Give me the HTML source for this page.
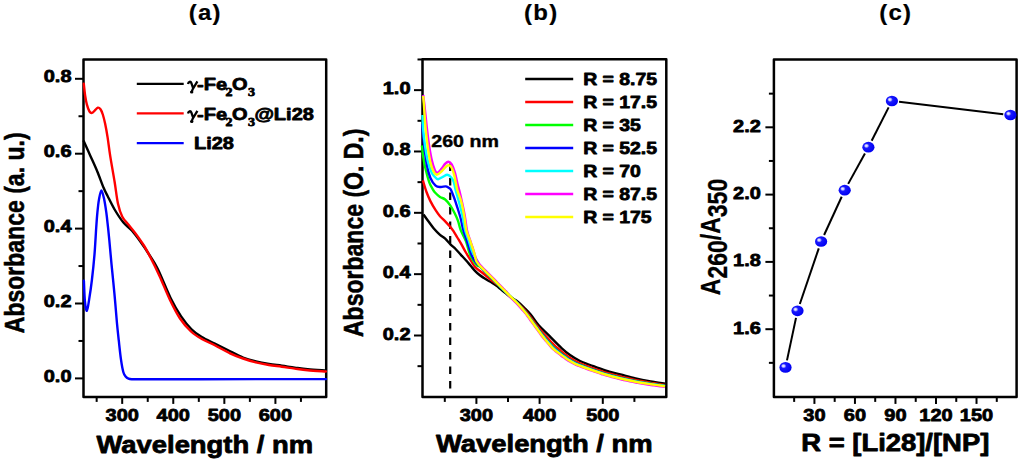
<!DOCTYPE html>
<html><head><meta charset="utf-8"><style>
html,body{margin:0;padding:0;background:#fff;width:1024px;height:463px;overflow:hidden}
svg{display:block}
text{font-family:"Liberation Sans", sans-serif;font-weight:bold;fill:#000;stroke:#000;stroke-width:0.9px;stroke-linejoin:round}
</style></head><body>
<svg width="1024" height="463" viewBox="0 0 1024 463">
<defs><radialGradient id="ball" cx="0.4" cy="0.4" r="0.62" fx="0.32" fy="0.36">
<stop offset="0" stop-color="#f4f4ff"/><stop offset="0.16" stop-color="#c8c8ff"/><stop offset="0.36" stop-color="#1818ff"/><stop offset="1" stop-color="#0000f0"/></radialGradient></defs>
<rect width="1024" height="463" fill="#fff"/>
<rect x="83.50" y="59.50" width="242.70" height="337.40" fill="none" stroke="#000" stroke-width="2.5" stroke-linejoin="round"/>
<g fill="none" stroke-linejoin="round" stroke-linecap="round">
<path d="M83.80,141.20 C84.90,143.65 88.15,150.85 90.40,155.90 C92.65,160.95 95.12,166.23 97.30,171.50 C99.48,176.77 101.78,183.42 103.50,187.50 C105.22,191.58 105.75,192.33 107.60,196.00 C109.45,199.67 112.00,205.12 114.60,209.50 C117.20,213.88 120.33,218.80 123.20,222.30 C126.07,225.80 128.92,227.25 131.80,230.50 C134.68,233.75 137.62,237.80 140.50,241.80 C143.38,245.80 146.22,249.97 149.10,254.50 C151.98,259.03 154.20,261.72 157.80,269.00 C161.40,276.28 166.82,290.30 170.70,298.20 C174.58,306.10 177.63,311.22 181.10,316.40 C184.57,321.58 188.05,325.85 191.50,329.30 C194.95,332.75 197.92,334.72 201.80,337.10 C205.68,339.48 210.48,341.45 214.80,343.60 C219.12,345.75 223.00,347.68 227.70,350.00 C232.40,352.32 238.30,355.60 243.00,357.50 C247.70,359.40 251.58,360.32 255.90,361.40 C260.22,362.48 264.58,363.28 268.90,364.00 C273.22,364.72 277.48,365.10 281.80,365.70 C286.12,366.30 290.48,367.02 294.80,367.60 C299.12,368.18 302.52,368.72 307.70,369.20 C312.88,369.68 322.87,370.28 325.90,370.50" stroke="#000" stroke-width="2.4"/>
<path d="M83.90,280.70 C84.07,284.08 84.40,295.98 84.90,301.00 C85.40,306.02 86.18,311.12 86.90,310.80 C87.62,310.48 88.37,304.23 89.20,299.10 C90.03,293.97 91.02,287.45 91.90,280.00 C92.78,272.55 93.78,263.07 94.50,254.40 C95.22,245.73 95.72,235.00 96.20,228.00 C96.68,221.00 96.93,217.17 97.40,212.40 C97.87,207.63 98.33,203.07 99.00,199.40 C99.67,195.73 100.53,190.40 101.40,190.40 C102.27,190.40 103.38,195.73 104.20,199.40 C105.02,203.07 105.70,208.08 106.30,212.40 C106.90,216.72 107.30,220.70 107.80,225.30 C108.30,229.90 108.68,233.52 109.30,240.00 C109.92,246.48 110.65,255.32 111.50,264.20 C112.35,273.08 113.50,283.58 114.40,293.30 C115.30,303.02 116.17,314.60 116.90,322.50 C117.63,330.40 118.12,334.50 118.80,340.70 C119.48,346.90 120.25,354.48 121.00,359.70 C121.75,364.92 122.53,369.22 123.30,372.00 C124.07,374.78 124.73,375.30 125.60,376.40 C126.47,377.50 127.43,378.13 128.50,378.60 C129.57,379.07 130.08,379.08 132.00,379.20 C133.92,379.32 128.67,379.30 140.00,379.30 C151.33,379.30 169.00,379.23 200.00,379.20 C231.00,379.17 305.00,379.12 326.00,379.10" stroke="#0000ff" stroke-width="2.4"/>
<path d="M83.80,83.80 C84.03,85.82 84.68,92.43 85.20,95.90 C85.72,99.37 86.18,102.00 86.90,104.60 C87.62,107.20 88.63,110.12 89.50,111.50 C90.37,112.88 91.23,113.05 92.10,112.90 C92.97,112.75 93.75,111.47 94.70,110.60 C95.65,109.73 96.83,107.92 97.80,107.70 C98.77,107.48 99.67,108.17 100.50,109.30 C101.33,110.43 102.03,112.12 102.80,114.50 C103.57,116.88 104.30,119.78 105.10,123.60 C105.90,127.42 106.75,132.02 107.60,137.40 C108.45,142.78 109.03,148.50 110.20,155.90 C111.37,163.30 113.30,173.82 114.60,181.80 C115.90,189.78 116.72,197.97 118.00,203.80 C119.28,209.63 120.57,213.33 122.30,216.80 C124.03,220.27 126.23,221.87 128.40,224.60 C130.57,227.33 132.72,229.72 135.30,233.20 C137.88,236.68 141.45,241.62 143.90,245.50 C146.35,249.38 147.40,251.43 150.00,256.50 C152.60,261.57 156.17,268.65 159.50,275.90 C162.83,283.15 166.58,292.90 170.00,300.00 C173.42,307.10 176.50,313.25 180.00,318.50 C183.50,323.75 187.37,328.08 191.00,331.50 C194.63,334.92 197.83,336.72 201.80,339.00 C205.77,341.28 210.10,342.82 214.80,345.20 C219.50,347.58 225.30,351.08 230.00,353.30 C234.70,355.52 238.68,356.98 243.00,358.50 C247.32,360.02 251.58,361.32 255.90,362.40 C260.22,363.48 264.58,364.28 268.90,365.00 C273.22,365.72 277.48,366.10 281.80,366.70 C286.12,367.30 290.48,368.02 294.80,368.60 C299.12,369.18 302.52,369.72 307.70,370.20 C312.88,370.68 322.87,371.28 325.90,371.50" stroke="#ff0000" stroke-width="2.4"/>
</g>
<line x1="75.00" y1="378.40" x2="83.50" y2="378.40" stroke="#000" stroke-width="2" />
<text transform="translate(71.50,381.90) scale(1,0.84)" font-size="20" text-anchor="end" >0.0</text>
<line x1="75.00" y1="303.50" x2="83.50" y2="303.50" stroke="#000" stroke-width="2" />
<text transform="translate(71.50,307.00) scale(1,0.84)" font-size="20" text-anchor="end" >0.2</text>
<line x1="75.00" y1="228.60" x2="83.50" y2="228.60" stroke="#000" stroke-width="2" />
<text transform="translate(71.50,232.10) scale(1,0.84)" font-size="20" text-anchor="end" >0.4</text>
<line x1="75.00" y1="153.70" x2="83.50" y2="153.70" stroke="#000" stroke-width="2" />
<text transform="translate(71.50,157.20) scale(1,0.84)" font-size="20" text-anchor="end" >0.6</text>
<line x1="75.00" y1="78.80" x2="83.50" y2="78.80" stroke="#000" stroke-width="2" />
<text transform="translate(71.50,82.30) scale(1,0.84)" font-size="20" text-anchor="end" >0.8</text>
<line x1="78.50" y1="340.95" x2="83.50" y2="340.95" stroke="#000" stroke-width="2" />
<line x1="78.50" y1="266.05" x2="83.50" y2="266.05" stroke="#000" stroke-width="2" />
<line x1="78.50" y1="191.15" x2="83.50" y2="191.15" stroke="#000" stroke-width="2" />
<line x1="78.50" y1="116.25" x2="83.50" y2="116.25" stroke="#000" stroke-width="2" />
<line x1="122.20" y1="396.90" x2="122.20" y2="403.90" stroke="#000" stroke-width="2" />
<text transform="translate(122.20,420.90) scale(1,0.84)" font-size="20" text-anchor="middle" >300</text>
<line x1="173.27" y1="396.90" x2="173.27" y2="403.90" stroke="#000" stroke-width="2" />
<text transform="translate(173.27,420.90) scale(1,0.84)" font-size="20" text-anchor="middle" >400</text>
<line x1="224.34" y1="396.90" x2="224.34" y2="403.90" stroke="#000" stroke-width="2" />
<text transform="translate(224.34,420.90) scale(1,0.84)" font-size="20" text-anchor="middle" >500</text>
<line x1="275.41" y1="396.90" x2="275.41" y2="403.90" stroke="#000" stroke-width="2" />
<text transform="translate(275.41,420.90) scale(1,0.84)" font-size="20" text-anchor="middle" >600</text>
<line x1="96.66" y1="396.90" x2="96.66" y2="401.90" stroke="#000" stroke-width="2" />
<line x1="147.74" y1="396.90" x2="147.74" y2="401.90" stroke="#000" stroke-width="2" />
<line x1="198.81" y1="396.90" x2="198.81" y2="401.90" stroke="#000" stroke-width="2" />
<line x1="249.88" y1="396.90" x2="249.88" y2="401.90" stroke="#000" stroke-width="2" />
<line x1="300.94" y1="396.90" x2="300.94" y2="401.90" stroke="#000" stroke-width="2" />
<text transform="translate(205.20,20.40) scale(1,0.9)" font-size="24" text-anchor="middle" style="stroke-width:0.2px;letter-spacing:1.2px">(a)</text>
<text transform="translate(204.80,453.20) scale(1,0.84)" font-size="27.4" text-anchor="middle" >Wavelength / nm</text>
<text transform="translate(23.50,232.80) scale(1,0.84) rotate(-90)" font-size="27.4" text-anchor="middle" style="stroke-width:0.55px">Absorbance (a. u.)</text>
<line x1="136.80" y1="83.90" x2="183.70" y2="83.90" stroke="#000" stroke-width="2.2" />
<line x1="136.80" y1="113.40" x2="183.70" y2="113.40" stroke="#ff0000" stroke-width="2.2" />
<line x1="136.80" y1="143.10" x2="183.70" y2="143.10" stroke="#0000ff" stroke-width="2.2" />
<text transform="translate(188.60,90.40) scale(1,0.84)" font-size="20" text-anchor="start" ><tspan x="8.5">-</tspan><tspan x="15.2">Fe</tspan><tspan x="37.0" dy="7" font-size="14" font-family="Liberation Serif">2</tspan><tspan x="43.5" dy="-7">O</tspan><tspan x="59.3" dy="7" font-size="14" font-family="Liberation Serif">3</tspan></text>
<path d="M188.0,84.00 C188.5,81.40 190.6,80.90 191.4,83.20 L193.3,88.60 M197.4,81.30 L192.7,89.20 L191.4,92.60" fill="none" stroke="#000" stroke-width="2.3"/>
<ellipse cx="191.7" cy="92.00" rx="1.7" ry="1.5" fill="#000"/>
<text transform="translate(188.60,119.90) scale(1,0.84)" font-size="20" text-anchor="start" ><tspan x="8.5">-</tspan><tspan x="15.2">Fe</tspan><tspan x="37.0" dy="7" font-size="14" font-family="Liberation Serif">2</tspan><tspan x="43.5" dy="-7">O</tspan><tspan x="59.3" dy="7" font-size="14" font-family="Liberation Serif">3</tspan><tspan x="65.8" dy="-7">@Li28</tspan></text>
<path d="M188.0,113.50 C188.5,110.90 190.6,110.40 191.4,112.70 L193.3,118.10 M197.4,110.80 L192.7,118.70 L191.4,122.10" fill="none" stroke="#000" stroke-width="2.3"/>
<ellipse cx="191.7" cy="121.50" rx="1.7" ry="1.5" fill="#000"/>
<text transform="translate(194.00,149.00) scale(1,0.84)" font-size="20" text-anchor="start" >Li28</text>
<rect x="422.50" y="59.20" width="243.80" height="337.70" fill="none" stroke="#000" stroke-width="2.5" stroke-linejoin="round"/>
<line x1="414.00" y1="335.50" x2="422.50" y2="335.50" stroke="#000" stroke-width="2" />
<text transform="translate(410.50,339.50) scale(1,0.84)" font-size="20" text-anchor="end" >0.2</text>
<line x1="414.00" y1="274.16" x2="422.50" y2="274.16" stroke="#000" stroke-width="2" />
<text transform="translate(410.50,278.16) scale(1,0.84)" font-size="20" text-anchor="end" >0.4</text>
<line x1="414.00" y1="212.82" x2="422.50" y2="212.82" stroke="#000" stroke-width="2" />
<text transform="translate(410.50,216.82) scale(1,0.84)" font-size="20" text-anchor="end" >0.6</text>
<line x1="414.00" y1="151.48" x2="422.50" y2="151.48" stroke="#000" stroke-width="2" />
<text transform="translate(410.50,155.48) scale(1,0.84)" font-size="20" text-anchor="end" >0.8</text>
<line x1="414.00" y1="90.14" x2="422.50" y2="90.14" stroke="#000" stroke-width="2" />
<text transform="translate(410.50,94.14) scale(1,0.84)" font-size="20" text-anchor="end" >1.0</text>
<line x1="417.50" y1="366.17" x2="422.50" y2="366.17" stroke="#000" stroke-width="2" />
<line x1="417.50" y1="304.83" x2="422.50" y2="304.83" stroke="#000" stroke-width="2" />
<line x1="417.50" y1="243.49" x2="422.50" y2="243.49" stroke="#000" stroke-width="2" />
<line x1="417.50" y1="182.15" x2="422.50" y2="182.15" stroke="#000" stroke-width="2" />
<line x1="417.50" y1="120.81" x2="422.50" y2="120.81" stroke="#000" stroke-width="2" />
<line x1="417.50" y1="59.47" x2="422.50" y2="59.47" stroke="#000" stroke-width="2" />
<line x1="476.40" y1="396.90" x2="476.40" y2="403.90" stroke="#000" stroke-width="2" />
<text transform="translate(476.40,420.90) scale(1,0.84)" font-size="20" text-anchor="middle" >300</text>
<line x1="539.60" y1="396.90" x2="539.60" y2="403.90" stroke="#000" stroke-width="2" />
<text transform="translate(539.60,420.90) scale(1,0.84)" font-size="20" text-anchor="middle" >400</text>
<line x1="602.80" y1="396.90" x2="602.80" y2="403.90" stroke="#000" stroke-width="2" />
<text transform="translate(602.80,420.90) scale(1,0.84)" font-size="20" text-anchor="middle" >500</text>
<line x1="444.80" y1="396.90" x2="444.80" y2="401.90" stroke="#000" stroke-width="2" />
<line x1="508.00" y1="396.90" x2="508.00" y2="401.90" stroke="#000" stroke-width="2" />
<line x1="571.20" y1="396.90" x2="571.20" y2="401.90" stroke="#000" stroke-width="2" />
<line x1="634.40" y1="396.90" x2="634.40" y2="401.90" stroke="#000" stroke-width="2" />
<text transform="translate(541.20,20.40) scale(1,0.9)" font-size="24" text-anchor="middle" style="stroke-width:0.2px;letter-spacing:1.2px">(b)</text>
<text transform="translate(544.30,452.20) scale(1,0.84)" font-size="27.4" text-anchor="middle" >Wavelength / nm</text>
<text transform="translate(363.00,232.80) scale(1,0.84) rotate(-90)" font-size="27.4" text-anchor="middle" style="stroke-width:0.55px">Absorbance (O. D.)</text>
<line x1="525.20" y1="79.00" x2="573.20" y2="79.00" stroke="#000000" stroke-width="2.4" />
<text transform="translate(583.20,85.00) scale(1,0.84)" font-size="19.4" text-anchor="start" >R = 8.75</text>
<line x1="525.20" y1="102.00" x2="573.20" y2="102.00" stroke="#ff0000" stroke-width="2.4" />
<text transform="translate(583.20,108.00) scale(1,0.84)" font-size="19.4" text-anchor="start" >R = 17.5</text>
<line x1="525.20" y1="125.00" x2="573.20" y2="125.00" stroke="#00ff00" stroke-width="2.4" />
<text transform="translate(583.20,131.00) scale(1,0.84)" font-size="19.4" text-anchor="start" >R = 35</text>
<line x1="525.20" y1="148.00" x2="573.20" y2="148.00" stroke="#0000ff" stroke-width="2.4" />
<text transform="translate(583.20,154.00) scale(1,0.84)" font-size="19.4" text-anchor="start" >R = 52.5</text>
<line x1="525.20" y1="171.00" x2="573.20" y2="171.00" stroke="#00ffff" stroke-width="2.4" />
<text transform="translate(583.20,177.00) scale(1,0.84)" font-size="19.4" text-anchor="start" >R = 70</text>
<line x1="525.20" y1="194.00" x2="573.20" y2="194.00" stroke="#ff00ff" stroke-width="2.4" />
<text transform="translate(583.20,200.00) scale(1,0.84)" font-size="19.4" text-anchor="start" >R = 87.5</text>
<line x1="525.20" y1="217.00" x2="573.20" y2="217.00" stroke="#ffff00" stroke-width="2.4" />
<text transform="translate(583.20,223.00) scale(1,0.84)" font-size="19.4" text-anchor="start" >R = 175</text>
<text transform="translate(431.30,147.20) scale(1,0.84)" font-size="19.6" text-anchor="start" style="stroke-width:0.5px">260 nm</text>
<line x1="450.20" y1="163.60" x2="450.20" y2="390.00" stroke="#000" stroke-width="2.2" stroke-dasharray="7.5,7"/>
<g fill="none" stroke-linejoin="round" stroke-linecap="butt">
<path d="M423.50,214.50 C424.22,215.50 426.08,218.17 427.80,220.50 C429.52,222.83 431.77,226.12 433.80,228.50 C435.83,230.88 438.10,233.12 440.00,234.80 C441.90,236.48 443.47,237.02 445.20,238.60 C446.93,240.18 448.67,242.57 450.40,244.30 C452.13,246.03 453.88,247.28 455.60,249.00 C457.32,250.72 458.98,252.73 460.70,254.60 C462.42,256.47 464.17,258.25 465.90,260.20 C467.63,262.15 469.58,264.53 471.10,266.30 C472.62,268.07 473.63,269.38 475.00,270.80 C476.37,272.22 477.87,273.63 479.30,274.80 C480.73,275.97 482.15,276.85 483.60,277.80 C485.05,278.75 486.55,279.65 488.00,280.50 C489.45,281.35 490.87,282.00 492.30,282.90 C493.73,283.80 495.17,284.82 496.60,285.90 C498.03,286.98 499.47,288.25 500.90,289.40 C502.33,290.55 503.52,291.45 505.20,292.80 C506.88,294.15 508.90,296.02 511.00,297.50 C513.10,298.98 515.63,300.03 517.80,301.70 C519.97,303.37 521.85,305.35 524.00,307.50 C526.15,309.65 528.28,311.68 530.70,314.60 C533.12,317.52 535.47,321.53 538.50,325.00 C541.53,328.47 545.02,331.52 548.90,335.40 C552.78,339.28 558.28,345.03 561.80,348.30 C565.32,351.57 566.97,352.88 570.00,355.00 C573.03,357.12 576.63,359.33 580.00,361.00 C583.37,362.67 585.98,363.42 590.20,365.00 C594.42,366.58 600.27,368.93 605.30,370.50 C610.33,372.07 615.35,373.08 620.40,374.40 C625.45,375.72 630.55,377.23 635.60,378.40 C640.65,379.57 645.80,380.53 650.70,381.40 C655.60,382.27 662.62,383.23 665.00,383.60" stroke="#000000" stroke-width="2.4"/>
<path d="M422.90,180.40 C423.50,182.33 425.25,188.55 426.50,192.00 C427.75,195.45 428.88,198.07 430.40,201.10 C431.92,204.13 434.00,207.68 435.60,210.20 C437.20,212.72 438.40,214.35 440.00,216.20 C441.60,218.05 443.47,219.50 445.20,221.30 C446.93,223.10 449.02,225.35 450.40,227.00 C451.78,228.65 452.35,229.45 453.50,231.20 C454.65,232.95 455.95,235.25 457.30,237.50 C458.65,239.75 460.17,242.20 461.60,244.70 C463.03,247.20 464.47,250.05 465.90,252.50 C467.33,254.95 468.68,257.00 470.20,259.40 C471.72,261.80 472.77,264.50 475.00,266.90 C477.23,269.30 480.72,271.50 483.60,273.80 C486.48,276.10 489.42,278.45 492.30,280.70 C495.18,282.95 498.45,285.14 500.90,287.30 C503.35,289.46 505.48,292.16 507.00,293.67 C508.52,295.18 509.00,295.52 510.00,296.39 C511.00,297.26 512.00,298.07 513.00,298.89 C514.00,299.71 515.00,300.44 516.00,301.30 C517.00,302.16 518.00,303.06 519.00,304.04 C520.00,305.02 521.00,306.12 522.00,307.17 C523.00,308.22 524.00,309.23 525.00,310.36 C526.00,311.49 527.00,312.72 528.00,313.93 C529.00,315.15 530.00,316.35 531.00,317.65 C532.00,318.95 533.00,320.37 534.00,321.73 C535.00,323.09 536.00,324.48 537.00,325.79 C538.00,327.10 539.00,328.38 540.00,329.60 C541.00,330.82 542.00,331.98 543.00,333.10 C544.00,334.23 545.00,335.29 546.00,336.38 C547.00,337.47 548.00,338.56 549.00,339.65 C550.00,340.74 551.00,341.91 552.00,342.93 C553.00,343.95 554.00,344.85 555.00,345.77 C556.00,346.69 557.00,347.57 558.00,348.46 C559.00,349.35 560.00,350.27 561.00,351.11 C562.00,351.95 563.00,352.71 564.00,353.50 C565.00,354.28 566.00,355.07 567.00,355.81 C568.00,356.55 569.00,357.29 570.00,357.94 C571.00,358.59 572.00,359.13 573.00,359.70 C574.00,360.27 575.00,360.85 576.00,361.37 C577.00,361.89 578.00,362.38 579.00,362.84 C580.00,363.29 581.00,363.69 582.00,364.09 C583.00,364.50 584.00,364.86 585.00,365.25 C586.00,365.63 587.00,366.02 588.00,366.40 C589.00,366.78 590.00,367.17 591.00,367.53 C592.00,367.89 593.00,368.22 594.00,368.57 C595.00,368.92 596.00,369.27 597.00,369.61 C598.00,369.96 599.00,370.31 600.00,370.66 C601.00,371.00 602.00,371.36 603.00,371.70 C604.00,372.04 605.00,372.39 606.00,372.68 C607.00,372.98 608.00,373.21 609.00,373.47 C610.00,373.73 611.00,373.99 612.00,374.25 C613.00,374.51 614.00,374.78 615.00,375.04 C616.00,375.30 617.00,375.56 618.00,375.82 C619.00,376.08 620.00,376.35 621.00,376.59 C622.00,376.84 623.00,377.07 624.00,377.31 C625.00,377.55 626.00,377.79 627.00,378.03 C628.00,378.28 629.00,378.52 630.00,378.76 C631.00,379.00 632.00,379.24 633.00,379.48 C634.00,379.71 635.00,379.97 636.00,380.17 C637.00,380.38 638.00,380.53 639.00,380.71 C640.00,380.89 641.00,381.07 642.00,381.24 C643.00,381.42 644.00,381.60 645.00,381.78 C646.00,381.96 647.00,382.14 648.00,382.32 C649.00,382.49 650.00,382.68 651.00,382.84 C652.00,383.01 653.00,383.14 654.00,383.28 C655.00,383.43 656.00,383.58 657.00,383.73 C658.00,383.87 659.00,384.02 660.00,384.17 C661.00,384.31 662.17,384.48 663.00,384.61 C663.83,384.73 664.67,384.85 665.00,384.90" stroke="#ff0000" stroke-width="2.4"/>
<path d="M421.90,145.50 C422.13,147.42 422.75,153.32 423.30,157.00 C423.85,160.68 424.23,163.47 425.20,167.60 C426.17,171.73 427.92,178.32 429.10,181.80 C430.28,185.28 431.32,186.72 432.30,188.50 C433.28,190.28 433.72,191.10 435.00,192.50 C436.28,193.90 438.30,195.73 440.00,196.90 C441.70,198.07 443.47,198.05 445.20,199.50 C446.93,200.95 448.82,203.30 450.40,205.60 C451.98,207.90 453.42,210.72 454.70,213.30 C455.98,215.88 457.10,218.32 458.10,221.10 C459.10,223.88 459.40,226.65 460.70,230.00 C462.00,233.35 464.32,237.02 465.90,241.20 C467.48,245.38 468.47,251.20 470.20,255.10 C471.93,259.00 474.62,262.66 476.30,264.60 C477.98,266.54 478.97,265.65 480.30,266.71 C481.63,267.78 482.97,269.62 484.30,270.99 C485.63,272.36 486.97,273.63 488.30,274.95 C489.63,276.26 490.97,277.56 492.30,278.90 C493.63,280.24 494.97,281.64 496.30,283.00 C497.63,284.37 498.52,285.38 500.30,287.10 C502.08,288.82 505.38,291.80 507.00,293.32 C508.62,294.83 509.00,295.26 510.00,296.21 C511.00,297.15 512.00,298.07 513.00,298.99 C514.00,299.91 515.00,300.77 516.00,301.73 C517.00,302.69 518.00,303.71 519.00,304.77 C520.00,305.83 521.00,306.98 522.00,308.09 C523.00,309.21 524.00,310.25 525.00,311.44 C526.00,312.64 527.00,313.95 528.00,315.25 C529.00,316.55 530.00,317.89 531.00,319.24 C532.00,320.59 533.00,322.00 534.00,323.37 C535.00,324.74 536.00,326.12 537.00,327.47 C538.00,328.81 539.00,330.16 540.00,331.46 C541.00,332.76 542.00,334.06 543.00,335.27 C544.00,336.47 545.00,337.56 546.00,338.71 C547.00,339.85 548.00,341.00 549.00,342.14 C550.00,343.29 551.00,344.55 552.00,345.58 C553.00,346.61 554.00,347.46 555.00,348.33 C556.00,349.21 557.00,350.01 558.00,350.83 C559.00,351.66 560.00,352.50 561.00,353.28 C562.00,354.06 563.00,354.79 564.00,355.54 C565.00,356.28 566.00,357.07 567.00,357.76 C568.00,358.46 569.00,359.09 570.00,359.70 C571.00,360.31 572.00,360.88 573.00,361.44 C574.00,361.99 575.00,362.55 576.00,363.03 C577.00,363.51 578.00,363.89 579.00,364.30 C580.00,364.71 581.00,365.09 582.00,365.48 C583.00,365.87 584.00,366.24 585.00,366.62 C586.00,367.00 587.00,367.39 588.00,367.76 C589.00,368.14 590.00,368.52 591.00,368.87 C592.00,369.22 593.00,369.55 594.00,369.88 C595.00,370.22 596.00,370.56 597.00,370.90 C598.00,371.23 599.00,371.57 600.00,371.91 C601.00,372.25 602.00,372.59 603.00,372.92 C604.00,373.25 605.00,373.59 606.00,373.88 C607.00,374.18 608.00,374.41 609.00,374.68 C610.00,374.94 611.00,375.20 612.00,375.47 C613.00,375.73 614.00,375.99 615.00,376.26 C616.00,376.52 617.00,376.79 618.00,377.05 C619.00,377.31 620.00,377.57 621.00,377.82 C622.00,378.06 623.00,378.27 624.00,378.49 C625.00,378.72 626.00,378.95 627.00,379.17 C628.00,379.40 629.00,379.63 630.00,379.85 C631.00,380.08 632.00,380.31 633.00,380.53 C634.00,380.75 635.00,380.99 636.00,381.19 C637.00,381.38 638.00,381.52 639.00,381.69 C640.00,381.85 641.00,382.02 642.00,382.19 C643.00,382.35 644.00,382.52 645.00,382.69 C646.00,382.86 647.00,383.02 648.00,383.19 C649.00,383.36 650.00,383.53 651.00,383.68 C652.00,383.84 653.00,383.97 654.00,384.11 C655.00,384.25 656.00,384.40 657.00,384.54 C658.00,384.68 659.00,384.82 660.00,384.97 C661.00,385.11 662.17,385.28 663.00,385.39 C663.83,385.51 664.67,385.63 665.00,385.68" stroke="#00ff00" stroke-width="2.4"/>
<path d="M422.50,124.00 C422.52,125.00 422.27,125.98 422.60,130.00 C422.93,134.02 423.75,142.05 424.50,148.10 C425.25,154.15 426.12,161.33 427.10,166.30 C428.08,171.27 428.98,174.67 430.40,177.90 C431.82,181.13 433.88,184.18 435.60,185.70 C437.32,187.22 438.98,186.88 440.70,187.00 C442.42,187.12 444.43,186.18 445.90,186.40 C447.37,186.62 448.65,187.70 449.50,188.30 C450.35,188.90 450.28,188.57 451.00,190.00 C451.72,191.43 452.75,194.02 453.80,196.90 C454.85,199.78 456.15,203.70 457.30,207.30 C458.45,210.90 459.70,214.72 460.70,218.50 C461.70,222.28 462.15,225.92 463.30,230.00 C464.45,234.08 466.15,238.68 467.60,243.00 C469.05,247.32 470.60,252.65 472.00,255.90 C473.40,259.15 474.67,260.80 476.00,262.50 C477.33,264.20 478.67,264.77 480.00,266.09 C481.33,267.40 482.67,269.02 484.00,270.40 C485.33,271.77 486.67,273.03 488.00,274.35 C489.33,275.67 490.67,276.96 492.00,278.30 C493.33,279.64 494.67,281.03 496.00,282.40 C497.33,283.76 498.17,284.69 500.00,286.50 C501.83,288.31 505.33,291.62 507.00,293.23 C508.67,294.84 509.00,295.20 510.00,296.16 C511.00,297.12 512.00,298.06 513.00,299.01 C514.00,299.96 515.00,300.85 516.00,301.84 C517.00,302.83 518.00,303.87 519.00,304.95 C520.00,306.03 521.00,307.20 522.00,308.33 C523.00,309.45 524.00,310.51 525.00,311.71 C526.00,312.92 527.00,314.25 528.00,315.57 C529.00,316.90 530.00,318.27 531.00,319.64 C532.00,321.00 533.00,322.40 534.00,323.78 C535.00,325.15 536.00,326.53 537.00,327.88 C538.00,329.24 539.00,330.61 540.00,331.93 C541.00,333.25 542.00,334.58 543.00,335.81 C544.00,337.04 545.00,338.13 546.00,339.29 C547.00,340.45 548.00,341.61 549.00,342.77 C550.00,343.93 551.00,345.21 552.00,346.25 C553.00,347.28 554.00,348.11 555.00,348.97 C556.00,349.84 557.00,350.62 558.00,351.43 C559.00,352.23 560.00,353.05 561.00,353.82 C562.00,354.59 563.00,355.31 564.00,356.05 C565.00,356.78 566.00,357.57 567.00,358.25 C568.00,358.93 569.00,359.54 570.00,360.14 C571.00,360.74 572.00,361.32 573.00,361.87 C574.00,362.42 575.00,362.98 576.00,363.45 C577.00,363.91 578.00,364.27 579.00,364.66 C580.00,365.06 581.00,365.44 582.00,365.83 C583.00,366.21 584.00,366.59 585.00,366.97 C586.00,367.34 587.00,367.73 588.00,368.10 C589.00,368.48 590.00,368.85 591.00,369.21 C592.00,369.56 593.00,369.88 594.00,370.21 C595.00,370.55 596.00,370.88 597.00,371.22 C598.00,371.55 599.00,371.89 600.00,372.22 C601.00,372.56 602.00,372.90 603.00,373.23 C604.00,373.56 605.00,373.89 606.00,374.18 C607.00,374.48 608.00,374.71 609.00,374.98 C610.00,375.24 611.00,375.51 612.00,375.77 C613.00,376.03 614.00,376.30 615.00,376.56 C616.00,376.83 617.00,377.09 618.00,377.35 C619.00,377.61 620.00,377.88 621.00,378.12 C622.00,378.36 623.00,378.57 624.00,378.79 C625.00,379.01 626.00,379.24 627.00,379.46 C628.00,379.68 629.00,379.90 630.00,380.13 C631.00,380.35 632.00,380.58 633.00,380.80 C634.00,381.01 635.00,381.25 636.00,381.44 C637.00,381.63 638.00,381.77 639.00,381.93 C640.00,382.10 641.00,382.26 642.00,382.42 C643.00,382.59 644.00,382.75 645.00,382.92 C646.00,383.08 647.00,383.24 648.00,383.41 C649.00,383.57 650.00,383.74 651.00,383.89 C652.00,384.04 653.00,384.18 654.00,384.32 C655.00,384.46 656.00,384.60 657.00,384.74 C658.00,384.88 659.00,385.03 660.00,385.17 C661.00,385.31 662.17,385.47 663.00,385.59 C663.83,385.71 664.67,385.83 665.00,385.87" stroke="#0000ff" stroke-width="2.4"/>
<path d="M422.50,115.00 C422.62,117.50 422.75,124.70 423.20,130.00 C423.65,135.30 424.43,141.62 425.20,146.80 C425.97,151.98 426.72,156.77 427.80,161.10 C428.88,165.43 430.50,170.15 431.70,172.80 C432.90,175.45 433.93,175.93 435.00,177.00 C436.07,178.07 436.72,179.27 438.10,179.20 C439.48,179.13 441.78,177.35 443.30,176.60 C444.82,175.85 445.90,174.58 447.20,174.70 C448.50,174.82 450.02,176.12 451.10,177.30 C452.18,178.48 452.95,179.68 453.70,181.80 C454.45,183.92 454.72,186.62 455.60,190.00 C456.48,193.38 457.85,197.78 459.00,202.10 C460.15,206.42 461.48,211.25 462.50,215.90 C463.52,220.55 464.10,225.98 465.10,230.00 C466.10,234.02 467.35,236.50 468.50,240.00 C469.65,243.50 470.73,247.83 472.00,251.00 C473.27,254.17 474.75,256.52 476.10,259.00 C477.45,261.48 478.77,264.03 480.10,265.90 C481.43,267.76 482.77,268.82 484.10,270.19 C485.43,271.57 486.77,272.83 488.10,274.15 C489.43,275.47 490.77,276.76 492.10,278.10 C493.43,279.44 494.77,280.83 496.10,282.20 C497.43,283.57 498.28,284.48 500.10,286.30 C501.92,288.12 505.35,291.50 507.00,293.14 C508.65,294.78 509.00,295.13 510.00,296.11 C511.00,297.10 512.00,298.06 513.00,299.03 C514.00,300.01 515.00,300.93 516.00,301.94 C517.00,302.96 518.00,304.03 519.00,305.14 C520.00,306.24 521.00,307.41 522.00,308.56 C523.00,309.70 524.00,310.76 525.00,311.98 C526.00,313.21 527.00,314.56 528.00,315.90 C529.00,317.25 530.00,318.65 531.00,320.03 C532.00,321.41 533.00,322.81 534.00,324.19 C535.00,325.57 536.00,326.94 537.00,328.30 C538.00,329.67 539.00,331.05 540.00,332.39 C541.00,333.73 542.00,335.10 543.00,336.35 C544.00,337.60 545.00,338.70 546.00,339.87 C547.00,341.04 548.00,342.22 549.00,343.39 C550.00,344.56 551.00,345.87 552.00,346.91 C553.00,347.95 554.00,348.76 555.00,349.61 C556.00,350.47 557.00,351.23 558.00,352.02 C559.00,352.81 560.00,353.61 561.00,354.36 C562.00,355.12 563.00,355.83 564.00,356.55 C565.00,357.28 566.00,358.07 567.00,358.74 C568.00,359.41 569.00,359.99 570.00,360.58 C571.00,361.18 572.00,361.76 573.00,362.31 C574.00,362.85 575.00,363.41 576.00,363.86 C577.00,364.32 578.00,364.64 579.00,365.03 C580.00,365.41 581.00,365.79 582.00,366.17 C583.00,366.55 584.00,366.93 585.00,367.31 C586.00,367.69 587.00,368.07 588.00,368.44 C589.00,368.82 590.00,369.19 591.00,369.54 C592.00,369.89 593.00,370.21 594.00,370.54 C595.00,370.87 596.00,371.21 597.00,371.54 C598.00,371.87 599.00,372.20 600.00,372.54 C601.00,372.87 602.00,373.21 603.00,373.53 C604.00,373.86 605.00,374.19 606.00,374.49 C607.00,374.78 608.00,375.01 609.00,375.28 C610.00,375.54 611.00,375.81 612.00,376.07 C613.00,376.34 614.00,376.60 615.00,376.87 C616.00,377.13 617.00,377.40 618.00,377.66 C619.00,377.92 620.00,378.19 621.00,378.43 C622.00,378.66 623.00,378.87 624.00,379.08 C625.00,379.30 626.00,379.52 627.00,379.74 C628.00,379.96 629.00,380.18 630.00,380.40 C631.00,380.62 632.00,380.84 633.00,381.06 C634.00,381.28 635.00,381.51 636.00,381.69 C637.00,381.88 638.00,382.02 639.00,382.18 C640.00,382.34 641.00,382.50 642.00,382.66 C643.00,382.82 644.00,382.98 645.00,383.14 C646.00,383.30 647.00,383.47 648.00,383.63 C649.00,383.79 650.00,383.95 651.00,384.10 C652.00,384.25 653.00,384.38 654.00,384.52 C655.00,384.66 656.00,384.80 657.00,384.95 C658.00,385.09 659.00,385.23 660.00,385.37 C661.00,385.51 662.17,385.67 663.00,385.79 C663.83,385.91 664.67,386.02 665.00,386.07" stroke="#00ffff" stroke-width="2.4"/>
<path d="M423.20,95.00 C423.42,96.83 424.07,102.17 424.50,106.00 C424.93,109.83 425.37,114.00 425.80,118.00 C426.23,122.00 426.55,125.42 427.10,130.00 C427.65,134.58 428.33,140.53 429.10,145.50 C429.87,150.47 430.73,155.68 431.70,159.80 C432.67,163.92 433.93,168.03 434.90,170.20 C435.87,172.37 436.42,173.02 437.50,172.80 C438.58,172.58 440.10,170.42 441.40,168.90 C442.70,167.38 444.12,164.90 445.30,163.70 C446.48,162.50 447.43,161.60 448.50,161.70 C449.57,161.80 450.62,162.45 451.70,164.30 C452.78,166.15 454.02,169.45 455.00,172.80 C455.98,176.15 456.90,181.53 457.60,184.40 C458.30,187.27 458.50,187.20 459.20,190.00 C459.90,192.80 460.87,196.88 461.80,201.20 C462.73,205.52 463.95,211.10 464.80,215.90 C465.65,220.70 466.03,226.00 466.90,230.00 C467.77,234.00 468.98,236.80 470.00,239.93 C471.02,243.05 472.00,245.64 473.00,248.77 C474.00,251.90 475.00,256.20 476.00,258.70 C477.00,261.20 478.00,262.41 479.00,263.80 C480.00,265.19 481.00,266.00 482.00,267.06 C483.00,268.12 484.00,269.17 485.00,270.18 C486.00,271.20 487.00,272.16 488.00,273.15 C489.00,274.14 490.00,275.12 491.00,276.11 C492.00,277.11 493.00,278.13 494.00,279.14 C495.00,280.16 496.00,281.20 497.00,282.22 C498.00,283.25 499.00,284.28 500.00,285.30 C501.00,286.32 502.00,287.32 503.00,288.33 C504.00,289.35 504.83,289.96 506.00,291.37 C507.17,292.78 508.83,295.39 510.00,296.78 C511.17,298.18 512.00,298.76 513.00,299.75 C514.00,300.74 515.00,301.68 516.00,302.71 C517.00,303.75 518.00,304.84 519.00,305.96 C520.00,307.07 521.00,308.26 522.00,309.41 C523.00,310.56 524.00,311.63 525.00,312.86 C526.00,314.10 527.00,315.47 528.00,316.82 C529.00,318.18 530.00,319.61 531.00,321.00 C532.00,322.39 533.00,323.78 534.00,325.16 C535.00,326.54 536.00,327.91 537.00,329.28 C538.00,330.66 539.00,332.05 540.00,333.40 C541.00,334.76 542.00,336.15 543.00,337.41 C544.00,338.67 545.00,339.78 546.00,340.96 C547.00,342.14 548.00,343.32 549.00,344.51 C550.00,345.69 551.00,347.01 552.00,348.05 C553.00,349.09 554.00,349.90 555.00,350.74 C556.00,351.59 557.00,352.34 558.00,353.12 C559.00,353.90 560.00,354.68 561.00,355.42 C562.00,356.17 563.00,356.87 564.00,357.59 C565.00,358.32 566.00,359.10 567.00,359.77 C568.00,360.43 569.00,360.99 570.00,361.58 C571.00,362.16 572.00,362.75 573.00,363.30 C574.00,363.84 575.00,364.39 576.00,364.84 C577.00,365.29 578.00,365.59 579.00,365.97 C580.00,366.35 581.00,366.73 582.00,367.10 C583.00,367.48 584.00,367.86 585.00,368.24 C586.00,368.61 587.00,369.00 588.00,369.37 C589.00,369.74 590.00,370.12 591.00,370.46 C592.00,370.81 593.00,371.13 594.00,371.46 C595.00,371.79 596.00,372.12 597.00,372.45 C598.00,372.78 599.00,373.11 600.00,373.45 C601.00,373.78 602.00,374.12 603.00,374.44 C604.00,374.76 605.00,375.10 606.00,375.39 C607.00,375.68 608.00,375.92 609.00,376.18 C610.00,376.45 611.00,376.71 612.00,376.97 C613.00,377.24 614.00,377.50 615.00,377.77 C616.00,378.03 617.00,378.30 618.00,378.56 C619.00,378.82 620.00,379.09 621.00,379.33 C622.00,379.57 623.00,379.76 624.00,379.98 C625.00,380.20 626.00,380.42 627.00,380.63 C628.00,380.85 629.00,381.07 630.00,381.28 C631.00,381.50 632.00,381.72 633.00,381.94 C634.00,382.15 635.00,382.38 636.00,382.56 C637.00,382.75 638.00,382.88 639.00,383.04 C640.00,383.20 641.00,383.36 642.00,383.52 C643.00,383.68 644.00,383.84 645.00,383.99 C646.00,384.15 647.00,384.31 648.00,384.47 C649.00,384.63 650.00,384.79 651.00,384.94 C652.00,385.09 653.00,385.22 654.00,385.36 C655.00,385.50 656.00,385.64 657.00,385.78 C658.00,385.92 659.00,386.06 660.00,386.20 C661.00,386.34 662.17,386.50 663.00,386.62 C663.83,386.74 664.67,386.85 665.00,386.90" stroke="#ff00ff" stroke-width="2.4"/>
<path d="M423.20,96.00 C423.33,97.67 423.73,102.33 424.00,106.00 C424.27,109.67 424.50,114.00 424.80,118.00 C425.10,122.00 425.30,125.20 425.80,130.00 C426.30,134.80 427.03,141.40 427.80,146.80 C428.57,152.20 429.43,158.28 430.40,162.40 C431.37,166.52 432.53,169.45 433.60,171.50 C434.67,173.55 435.50,174.70 436.80,174.70 C438.10,174.70 439.67,173.02 441.40,171.50 C443.13,169.98 445.58,166.37 447.20,165.60 C448.82,164.83 449.92,165.27 451.10,166.90 C452.28,168.53 453.27,171.55 454.30,175.40 C455.33,179.25 456.15,185.70 457.30,190.00 C458.45,194.30 460.05,196.88 461.20,201.20 C462.35,205.52 463.35,211.10 464.20,215.90 C465.05,220.70 465.30,225.78 466.30,230.00 C467.30,234.22 468.82,237.17 470.20,241.20 C471.58,245.23 473.52,250.73 474.60,254.20 C475.68,257.67 475.20,259.45 476.70,262.00 C478.20,264.55 481.00,266.82 483.60,269.50 C486.20,272.18 489.57,275.35 492.30,278.10 C495.03,280.85 497.28,283.23 500.00,286.00 C502.72,288.77 505.72,291.82 508.60,294.70 C511.48,297.58 514.42,300.22 517.30,303.30 C520.18,306.38 523.23,309.83 525.90,313.20 C528.57,316.57 530.55,319.70 533.30,323.50 C536.05,327.30 539.15,331.87 542.40,336.00 C545.65,340.13 549.87,345.30 552.80,348.30 C555.73,351.30 557.53,352.13 560.00,354.00 C562.47,355.87 565.08,357.87 567.60,359.50 C570.12,361.13 571.33,362.13 575.10,363.80 C578.87,365.47 585.17,367.72 590.20,369.50 C595.23,371.28 600.27,373.00 605.30,374.50 C610.33,376.00 615.35,377.28 620.40,378.50 C625.45,379.72 630.55,380.85 635.60,381.80 C640.65,382.75 645.80,383.47 650.70,384.20 C655.60,384.93 662.62,385.87 665.00,386.20" stroke="#ffff00" stroke-width="2.4"/>
</g>
<rect x="773.90" y="59.40" width="242.70" height="337.50" fill="none" stroke="#000" stroke-width="2.5" stroke-linejoin="round"/>
<line x1="765.40" y1="329.20" x2="773.90" y2="329.20" stroke="#000" stroke-width="2" />
<text transform="translate(760.90,333.70) scale(1,0.84)" font-size="20" text-anchor="end" >1.6</text>
<line x1="765.40" y1="261.90" x2="773.90" y2="261.90" stroke="#000" stroke-width="2" />
<text transform="translate(760.90,266.40) scale(1,0.84)" font-size="20" text-anchor="end" >1.8</text>
<line x1="765.40" y1="194.60" x2="773.90" y2="194.60" stroke="#000" stroke-width="2" />
<text transform="translate(760.90,199.10) scale(1,0.84)" font-size="20" text-anchor="end" >2.0</text>
<line x1="765.40" y1="127.30" x2="773.90" y2="127.30" stroke="#000" stroke-width="2" />
<text transform="translate(760.90,131.80) scale(1,0.84)" font-size="20" text-anchor="end" >2.2</text>
<line x1="768.90" y1="362.85" x2="773.90" y2="362.85" stroke="#000" stroke-width="2" />
<line x1="768.90" y1="295.55" x2="773.90" y2="295.55" stroke="#000" stroke-width="2" />
<line x1="768.90" y1="228.25" x2="773.90" y2="228.25" stroke="#000" stroke-width="2" />
<line x1="768.90" y1="160.95" x2="773.90" y2="160.95" stroke="#000" stroke-width="2" />
<line x1="768.90" y1="93.65" x2="773.90" y2="93.65" stroke="#000" stroke-width="2" />
<line x1="814.42" y1="396.90" x2="814.42" y2="403.90" stroke="#000" stroke-width="2" />
<text transform="translate(814.42,420.90) scale(1,0.84)" font-size="20" text-anchor="middle" >30</text>
<line x1="854.95" y1="396.90" x2="854.95" y2="403.90" stroke="#000" stroke-width="2" />
<text transform="translate(854.95,420.90) scale(1,0.84)" font-size="20" text-anchor="middle" >60</text>
<line x1="895.47" y1="396.90" x2="895.47" y2="403.90" stroke="#000" stroke-width="2" />
<text transform="translate(895.47,420.90) scale(1,0.84)" font-size="20" text-anchor="middle" >90</text>
<line x1="936.00" y1="396.90" x2="936.00" y2="403.90" stroke="#000" stroke-width="2" />
<text transform="translate(936.00,420.90) scale(1,0.84)" font-size="20" text-anchor="middle" >120</text>
<line x1="976.52" y1="396.90" x2="976.52" y2="403.90" stroke="#000" stroke-width="2" />
<text transform="translate(976.52,420.90) scale(1,0.84)" font-size="20" text-anchor="middle" >150</text>
<line x1="794.16" y1="396.90" x2="794.16" y2="401.90" stroke="#000" stroke-width="2" />
<line x1="834.69" y1="396.90" x2="834.69" y2="401.90" stroke="#000" stroke-width="2" />
<line x1="875.21" y1="396.90" x2="875.21" y2="401.90" stroke="#000" stroke-width="2" />
<line x1="915.73" y1="396.90" x2="915.73" y2="401.90" stroke="#000" stroke-width="2" />
<line x1="956.26" y1="396.90" x2="956.26" y2="401.90" stroke="#000" stroke-width="2" />
<line x1="996.78" y1="396.90" x2="996.78" y2="401.90" stroke="#000" stroke-width="2" />
<text transform="translate(895.80,20.40) scale(1,0.9)" font-size="24" text-anchor="middle" style="stroke-width:0.2px;letter-spacing:1.2px">(c)</text>
<text transform="translate(895.30,451.00) scale(1,0.84)" font-size="27.4" text-anchor="middle" >R = [Li28]/[NP]</text>
<text transform="translate(719.50,237.00) scale(1,0.84) rotate(-90)" font-size="27.4" text-anchor="middle" style="stroke-width:0.3px">A<tspan dy="7">260</tspan><tspan dy="-7">/A</tspan><tspan dy="7">350</tspan></text>
<line x1="786.99" y1="360.36" x2="796.01" y2="317.84" stroke="#000" stroke-width="2.0" />
<line x1="799.82" y1="303.98" x2="818.78" y2="248.32" stroke="#000" stroke-width="2.0" />
<line x1="824.11" y1="234.96" x2="841.69" y2="196.74" stroke="#000" stroke-width="2.0" />
<line x1="848.18" y1="183.89" x2="864.92" y2="153.51" stroke="#000" stroke-width="2.0" />
<line x1="871.66" y1="140.78" x2="888.64" y2="107.42" stroke="#000" stroke-width="2.0" />
<line x1="899.05" y1="101.84" x2="1003.25" y2="114.16" stroke="#000" stroke-width="2.0" />
<ellipse cx="785.5" cy="367.4" rx="6.1" ry="5.35" fill="url(#ball)"/>
<ellipse cx="797.5" cy="310.8" rx="6.1" ry="5.35" fill="url(#ball)"/>
<ellipse cx="821.1" cy="241.5" rx="6.1" ry="5.35" fill="url(#ball)"/>
<ellipse cx="844.7" cy="190.2" rx="6.1" ry="5.35" fill="url(#ball)"/>
<ellipse cx="868.4" cy="147.2" rx="6.1" ry="5.35" fill="url(#ball)"/>
<ellipse cx="891.9" cy="101.0" rx="6.1" ry="5.35" fill="url(#ball)"/>
<ellipse cx="1010.4" cy="115.0" rx="6.1" ry="5.35" fill="url(#ball)"/>
</svg></body></html>
